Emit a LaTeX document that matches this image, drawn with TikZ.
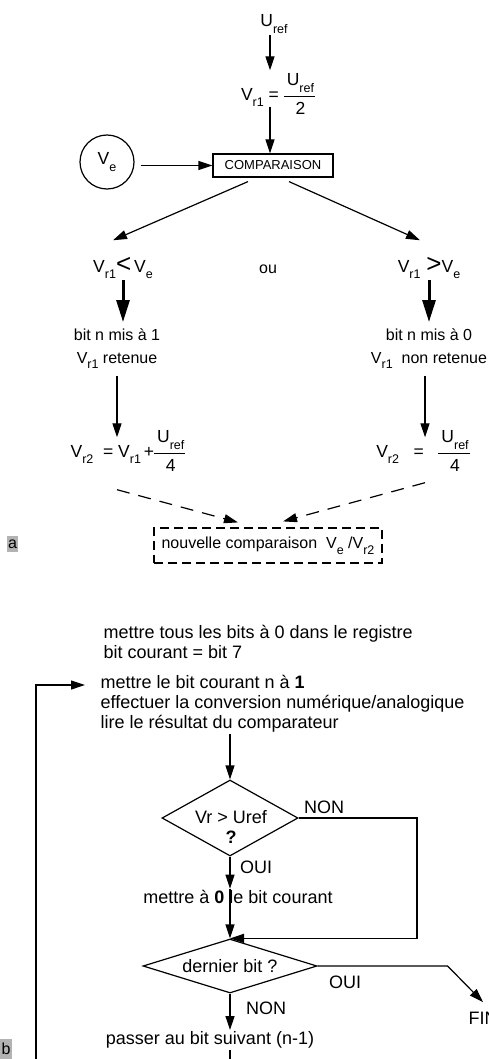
\documentclass[tikz,border=0pt]{standalone}
\usepackage{fontspec}
\setmainfont{Liberation Sans}
\usetikzlibrary{arrows.meta, shapes.geometric}
\definecolor{tagbg}{HTML}{B3B3B3}
\setlength{\arrayrulewidth}{1.2pt}
\newcommand{\ix}[1]{\raisebox{-0.35em}{\fontsize{12.5}{12.5}\selectfont #1}}
\newcommand{\frc}[2]{\begin{tabular}[c]{@{\hspace{3pt}}c@{\hspace{1pt}}}#1\\[4pt]\hline\rule{0pt}{17pt}#2\end{tabular}}

\begin{document}
\begin{tikzpicture}[x=1pt, y=-1pt, line width=1.2pt,
  >={Triangle[length=14pt, width=9pt]},
  lbl/.style={font=\fontsize{16}{23}\selectfont, inner sep=1pt},
  frm/.style={font=\fontsize{17.5}{20}\selectfont, inner sep=1pt},
  txt/.style={font=\fontsize{18}{20}\selectfont, inner sep=1pt},
  arr/.style={->},
  thk/.style={-{Triangle[length=22pt, width=13pt]}, line width=3pt},
  dsh/.style={->, dash pattern=on 13pt off 9pt},
  dia/.style={diamond, draw, inner sep=0pt},
  tag/.style={fill=tagbg, font=\fontsize{16}{16}\selectfont, inner xsep=1.5pt, inner ysep=4pt}]

\useasboundingbox (0,0) rectangle (489,1059);

% =========== a : principe ===========
\coordinate (axis) at (270,0);
\node[frm, anchor=base] (uref) at (274,27) {U\ix{ref}};
\node[frm] (vr1) at (278,96) {V\ix{r1} = \frc{U\ix{ref}}{2}};
\node[draw, font=\fontsize{13}{13}\selectfont, minimum width=120pt, minimum height=23pt, inner sep=0pt] (comp) at (273,165.5) {COMPARAISON};
\node[draw, circle, frm, minimum size=54pt, inner sep=0pt] (ve) at (107,162) {V\ix{e}};

\draw[arr] (uref.south -| axis) -- (vr1.north -| axis);
\draw[arr] ([yshift=15pt]vr1.south -| axis) -- (comp.north -| axis);
\draw[arr, shorten <=6pt] (ve.east |- comp) -- (comp.west);

% the two cases
\node[frm, anchor=base] (lt) at (123,272) {V\ix{r1}{\fontsize{26}{26}\selectfont <}\,V\ix{e}};
\node[lbl, anchor=base] (ou) at (268,273) {ou};
\node[frm, anchor=base] (rt) at (429,272) {V\ix{r1}\,\,{\fontsize{26}{26}\selectfont >}V\ix{e}};

\draw[arr] ([xshift=-25pt, yshift=-4pt]comp.south) -- ([xshift=-10pt, yshift=15pt]lt.north);
\draw[arr] ([xshift=16pt, yshift=-4pt]comp.south) -- ([xshift=-9pt, yshift=15pt]rt.north);

\node[lbl, align=center, anchor=north] (bitL) at (117,327) {bit n mis à 1\\V\ix{r1} retenue};
\node[lbl, align=center, anchor=north] (bitR) at (429,327) {bit n mis à 0\\V\ix{r1}\ \ non retenue};
\draw[thk] (lt.south) -- ([yshift=5pt]lt.south |- bitL.north);
\draw[thk] (rt.south) -- ([yshift=5pt]rt.south |- bitR.north);

\node[frm] (lf) at (128,453) {V\ix{r2}\ \ =\ V\ix{r1}\,+\frc{U\ix{ref}}{4}};
\node[frm] (rf) at (423,453) {V\ix{r2}\ \ \ =\ \ \ \frc{U\ix{ref}}{4}};
\draw[arr, shorten <=5pt, shorten >=-10pt] (bitL.south) -- (bitL.south |- lf.north);
\draw[arr, shorten <=5pt, shorten >=-10pt] ([xshift=-4pt]bitR.south) -- ([xshift=-4pt]bitR.south |- rf.north);

% new comparison
\node[draw, dash pattern=on 9pt off 5pt, lbl, minimum width=228pt, minimum height=35pt] (nc) at (268,545.5) {nouvelle comparaison\ \ V\ix{e} /V\ix{r2}};
\draw[dsh] ([xshift=-11pt, yshift=-11pt]lf.south) -- ([xshift=-30pt, yshift=5pt]nc.north);
\draw[dsh] ([xshift=2pt, yshift=-4pt]rf.south) -- ([xshift=15pt, yshift=6pt]nc.north);

\node[tag] (taga) at (12.5,544) {a};

% =========== b : algorithme ===========
\node[txt, align=left, anchor=north west] (init) at (102,624) {mettre tous les bits à 0 dans le registre\\bit courant = bit 7};
\node[txt, align=left, anchor=north west] (setbit) at (99,674) {mettre le bit courant n à \textbf{1}\\effectuer la conversion numérique/analogique\\lire le résultat du comparateur};

\node[dia, minimum width=136pt, minimum height=76pt] (d1) at (230,818) {};
\node[txt, align=center, anchor=north] (d1txt) at (231,809) {Vr > Uref\\\textbf{?}};
\node[txt] (non1) at (324,807.5) {NON};
\node[txt] (oui1) at (256,867) {OUI};
\node[txt] (mis0) at (238,897) {mettre à \textbf{0} le bit courant};

\node[dia, txt, shape aspect=3.2, minimum width=174pt, minimum height=54pt, inner sep=0pt] (d2) at (230,966) {dernier bit ?};
\node[txt] (oui2) at (345,982) {OUI};
\node[txt] (non2) at (266,1008) {NON};
\node[txt, anchor=west] (fin) at (467,1018) {FIN};
\node[txt] (next) at (210,1040) {passer au bit suivant (n-1)};

\node[tag] (tagb) at (6,1049) {b};

\coordinate (rx) at (417,0);
\coordinate (loopbot) at (36,1070);

\draw[arr] (setbit.south -| d1.north) -- (d1.north);
\draw[arr] (d1.east) -- (d1.east -| rx) -- (rx |- d2.north) -- (d2.north);
\draw[arr] (d1.south) -- (d1.south |- mis0.north);
\draw[arr] (mis0.north -| d1.south) -- (d2.north);
\draw[arr] (d2.east) -- ++(130,0) -- ([yshift=8pt]fin.north);
\draw[arr] (d2.south) -- (d2.south |- next.north);
\draw (next.south -| d2.south) -- ++(0,20);

% return loop
\draw[arr, shorten >=14pt] (loopbot) |- ([yshift=-11pt]setbit.north west);

\end{tikzpicture}
\end{document}
